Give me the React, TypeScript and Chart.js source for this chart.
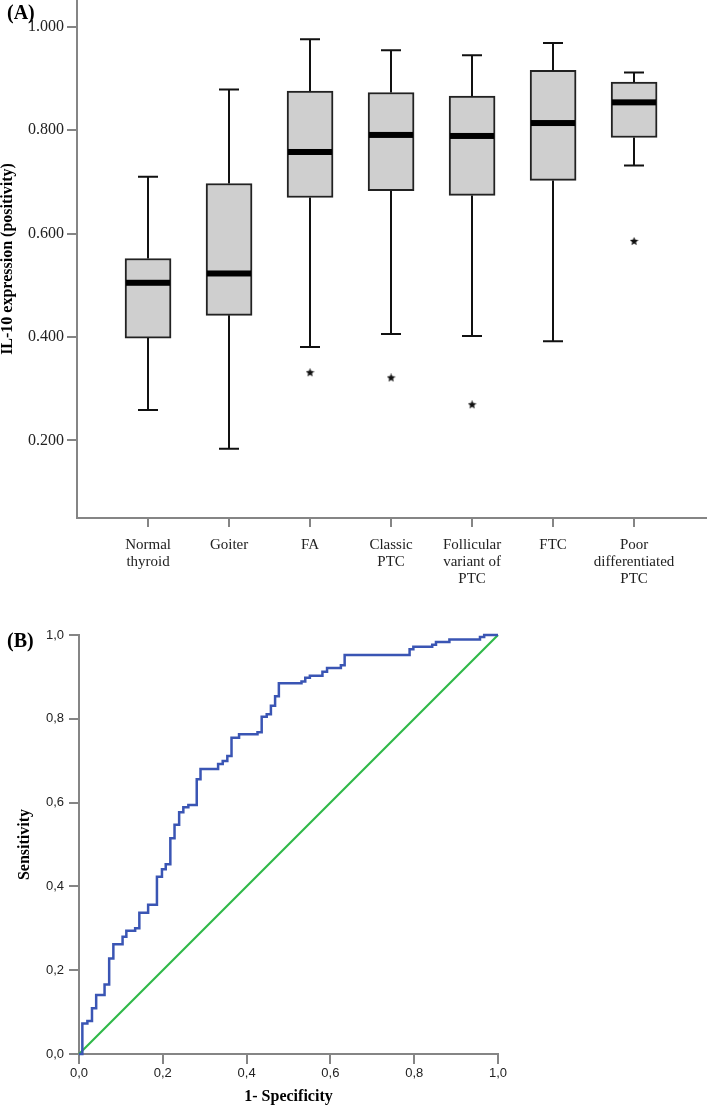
import React, { useEffect, useRef } from "react";
import { Chart, registerables } from "chart.js";

Chart.register(...registerables);

// ---------- Panel A data (box plot) ----------
const categories: string[][] = [
  ["Normal", "thyroid"],
  ["Goiter"],
  ["FA"],
  ["Classic", "PTC"],
  ["Follicular", "variant of", "PTC"],
  ["FTC"],
  ["Poor", "differentiated", "PTC"],
];
const whiskerLow = [0.259, 0.184, 0.381, 0.406, 0.402, 0.392, 0.732];
const quartile1 = [0.398, 0.442, 0.67, 0.683, 0.674, 0.703, 0.786];
const medians = [0.505, 0.523, 0.758, 0.791, 0.789, 0.814, 0.854];
const quartile3 = [0.552, 0.697, 0.876, 0.873, 0.866, 0.916, 0.893];
const whiskerHigh = [0.71, 0.879, 0.976, 0.955, 0.945, 0.969, 0.912];
const outlierCategory = [2, 3, 4, 6];
const outlierValue = [0.331, 0.321, 0.269, 0.585];
const boxTicks = [0.2, 0.4, 0.6, 0.8, 1.0];

// ---------- Panel B data (ROC curve) ----------
const rocFpr = [
  0, 0.008, 0.02, 0.031, 0.041, 0.061, 0.072, 0.082, 0.104, 0.113, 0.134, 0.144,
  0.165, 0.186, 0.198, 0.207, 0.218, 0.228, 0.239, 0.249, 0.261, 0.281, 0.29,
  0.332, 0.343, 0.354, 0.364, 0.382, 0.426, 0.436, 0.448, 0.458, 0.468, 0.477,
  0.531, 0.54, 0.551, 0.581, 0.592, 0.625, 0.634, 0.789, 0.798, 0.843, 0.852,
  0.884, 0.957, 0.967, 1.0,
];
const rocTpr = [
  0, 0.073, 0.079, 0.109, 0.141, 0.166, 0.228, 0.262, 0.28, 0.294, 0.3, 0.337,
  0.356, 0.423, 0.441, 0.453, 0.515, 0.547, 0.577, 0.589, 0.594, 0.656, 0.68,
  0.692, 0.699, 0.711, 0.755, 0.763, 0.768, 0.805, 0.811, 0.831, 0.854, 0.885,
  0.889, 0.898, 0.903, 0.912, 0.921, 0.928, 0.952, 0.966, 0.972, 0.977, 0.983,
  0.989, 0.995, 1.0, 1.0,
];
const refFpr = [0, 1];
const refTpr = [0, 1];
const rocTicks = [0, 0.2, 0.4, 0.6, 0.8, 1.0];

const AXIS_GRAY = "#858585";

function makeStar(size: number): HTMLCanvasElement {
  const c = document.createElement("canvas");
  c.width = size;
  c.height = size;
  const g = c.getContext("2d")!;
  g.fillStyle = "#111";
  g.beginPath();
  for (let k = 0; k < 10; k++) {
    const r = k % 2 === 0 ? size / 2 : size / 4.4;
    const a = -Math.PI / 2 + (k * Math.PI) / 5;
    g.lineTo(size / 2 + r * Math.cos(a), size / 2 + r * Math.sin(a));
  }
  g.closePath();
  g.fill();
  return c;
}

const boxExtras = {
  id: "boxExtras",
  afterDatasetsDraw(chart: any) {
    const { ctx } = chart;
    const xs = chart.scales.x;
    const ys = chart.scales.y;
    ctx.save();
    ctx.strokeStyle = "#111";
    ctx.lineWidth = 2;
    for (let i = 0; i < categories.length; i++) {
      const cx = Math.round(xs.getPixelForValue(i));
      const yHi = ys.getPixelForValue(whiskerHigh[i]);
      const yLo = ys.getPixelForValue(whiskerLow[i]);
      const yQ3 = ys.getPixelForValue(quartile3[i]);
      const yQ1 = ys.getPixelForValue(quartile1[i]);
      ctx.beginPath();
      ctx.moveTo(cx, yQ3);
      ctx.lineTo(cx, yHi);
      ctx.moveTo(cx, yQ1);
      ctx.lineTo(cx, yLo);
      ctx.moveTo(cx - 10, yHi);
      ctx.lineTo(cx + 10, yHi);
      ctx.moveTo(cx - 10, yLo);
      ctx.lineTo(cx + 10, yLo);
      ctx.stroke();
      const ym = ys.getPixelForValue(medians[i]);
      ctx.fillStyle = "#000";
      ctx.fillRect(cx - 22, ym - 3, 44, 6);
    }
    ctx.restore();
  },
};

export default function App() {
  const refA = useRef<HTMLCanvasElement>(null);
  const refB = useRef<HTMLCanvasElement>(null);

  useEffect(() => {
    const star = makeStar(9);
    const serif = "'Liberation Serif', 'Times New Roman', serif";
    const sans = "'Liberation Sans', Arial, sans-serif";

    const chartA = new Chart(refA.current!, {
      type: "bar",
      data: {
        datasets: [
          {
            type: "bar",
            data: categories.map((_, i) => ({ x: i, y: [quartile1[i], quartile3[i]] })) as any,
            backgroundColor: "#cfcfcf",
            borderColor: "#222",
            borderWidth: 2,
            borderSkipped: false,
            barThickness: 46,
          } as any,
          {
            type: "scatter",
            data: outlierCategory.map((c, k) => ({ x: c, y: outlierValue[k] })),
            pointStyle: star,
            pointRadius: 5,
            showLine: false,
          } as any,
        ],
      },
      options: {
        animation: false,
        responsive: false,
        layout: { padding: 0, autoPadding: false },
        plugins: { legend: { display: false }, tooltip: { enabled: false } },
        scales: {
          x: {
            type: "linear",
            min: -0.877,
            max: 6.9,
            offset: false,
            grid: {
              drawOnChartArea: false,
              drawTicks: true,
              tickLength: 9,
              color: AXIS_GRAY,
              lineWidth: 2,
              offset: false,
            },
            border: { display: true, color: AXIS_GRAY, width: 2 },
            afterBuildTicks: (s: any) => {
              s.ticks = categories.map((_, i) => ({ value: i }));
            },
            afterFit: (s: any) => {
              s.height = 72;
              s.paddingLeft = 0;
              s.paddingRight = 0;
            },
            ticks: {
              autoSkip: false,
              maxRotation: 0,
              minRotation: 0,
              padding: 10,
              color: "#222",
              font: { family: serif, size: 15, lineHeight: 1.11 },
              callback: (v: any) => categories[Math.round(Number(v))],
            },
          } as any,
          y: {
            type: "linear",
            min: 0.05,
            max: 1.052,
            grid: {
              drawOnChartArea: false,
              drawTicks: true,
              tickLength: 10,
              color: AXIS_GRAY,
              lineWidth: 2,
            },
            border: { display: true, color: AXIS_GRAY, width: 2 },
            afterBuildTicks: (s: any) => {
              s.ticks = boxTicks.map((v) => ({ value: v }));
            },
            afterFit: (s: any) => {
              s.width = 77;
              s.paddingTop = 0;
              s.paddingBottom = 0;
            },
            ticks: {
              padding: 3,
              color: "#222",
              font: { family: serif, size: 16 },
              callback: (v: any) => Number(v).toFixed(3),
            },
            title: {
              display: true,
              text: "IL-10 expression (positivity)",
              color: "#000",
              font: { family: serif, size: 16, weight: "bold", lineHeight: 1 },
              padding: { top: 0, bottom: 0 },
            },
          } as any,
        },
      },
      plugins: [boxExtras],
    });

    const chartB = new Chart(refB.current!, {
      type: "scatter",
      data: {
        datasets: [
          {
            data: rocFpr.map((x, i) => ({ x, y: rocTpr[i] })),
            showLine: true,
            stepped: "before",
            borderColor: "#3a55b4",
            borderWidth: 2.5,
            pointRadius: 0,
            fill: false,
            clip: false,
          } as any,
          {
            data: refFpr.map((x, i) => ({ x, y: refTpr[i] })),
            showLine: true,
            borderColor: "#2fb848",
            borderWidth: 2.2,
            pointRadius: 0,
            fill: false,
            clip: false,
          } as any,
        ],
      },
      options: {
        animation: false,
        responsive: false,
        layout: { padding: { top: 35, right: 209, left: 0, bottom: 0 }, autoPadding: false },
        plugins: { legend: { display: false }, tooltip: { enabled: false } },
        scales: {
          x: {
            type: "linear",
            min: 0,
            max: 1,
            grid: {
              drawOnChartArea: false,
              drawTicks: true,
              tickLength: 10,
              color: AXIS_GRAY,
              lineWidth: 2,
            },
            border: { display: true, color: AXIS_GRAY, width: 2 },
            afterBuildTicks: (s: any) => {
              s.ticks = rocTicks.map((v) => ({ value: v }));
            },
            afterFit: (s: any) => {
              s.height = 52;
            },
            ticks: {
              autoSkip: false,
              maxRotation: 0,
              padding: 2,
              color: "#222",
              font: { family: sans, size: 13 },
              callback: (v: any) => Number(v).toFixed(1).replace(".", ","),
            },
            title: {
              display: true,
              text: "1- Specificity",
              color: "#000",
              font: { family: serif, size: 16, weight: "bold" },
              padding: { top: 0, bottom: 0 },
            },
          } as any,
          y: {
            type: "linear",
            min: 0,
            max: 1,
            grid: {
              drawOnChartArea: false,
              drawTicks: true,
              tickLength: 10,
              color: AXIS_GRAY,
              lineWidth: 2,
            },
            border: { display: true, color: AXIS_GRAY, width: 2 },
            afterBuildTicks: (s: any) => {
              s.ticks = rocTicks.map((v) => ({ value: v }));
            },
            afterFit: (s: any) => {
              s.width = 79;
            },
            ticks: {
              padding: 5,
              color: "#222",
              font: { family: sans, size: 13 },
              callback: (v: any) => Number(v).toFixed(1).replace(".", ","),
            },
            title: {
              display: true,
              text: "Sensitivity",
              color: "#000",
              font: { family: serif, size: 16, weight: "bold", lineHeight: 1 },
              padding: { top: 17, bottom: 0 },
            },
          } as any,
        },
      },
    });

    return () => {
      chartA.destroy();
      chartB.destroy();
    };
  }, []);

  const panelLabel: React.CSSProperties = {
    position: "absolute",
    left: 7,
    fontFamily: "'Liberation Serif', 'Times New Roman', serif",
    fontWeight: "bold",
    fontSize: 20,
    lineHeight: "20px",
    color: "#000",
  };

  return (
    <div
      style={{
        position: "absolute",
        left: 0,
        top: 0,
        width: 707,
        height: 1106,
        background: "#fff",
        overflow: "hidden",
      }}
    >
      <canvas
        ref={refA}
        width={707}
        height={590}
        style={{ position: "absolute", left: 0, top: 0, width: 707, height: 590 }}
      />
      <canvas
        ref={refB}
        width={707}
        height={506}
        style={{ position: "absolute", left: 0, top: 600, width: 707, height: 506 }}
      />
      <div style={{ ...panelLabel, top: 2 }}>(A)</div>
      <div style={{ ...panelLabel, top: 630 }}>(B)</div>
    </div>
  );
}
